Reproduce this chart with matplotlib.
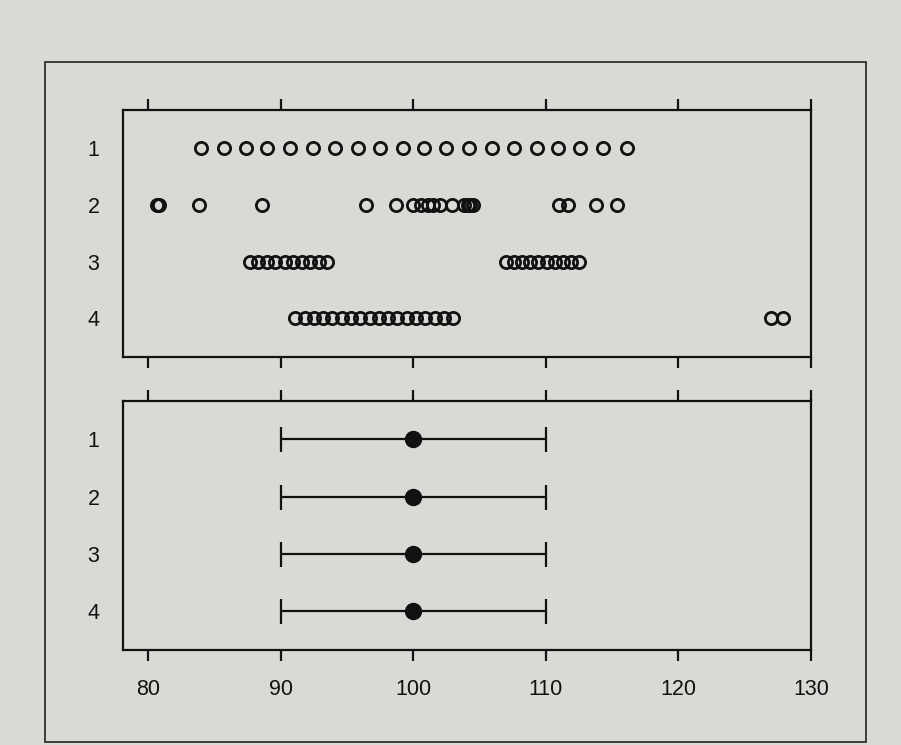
import matplotlib
matplotlib.use("Agg")
import matplotlib.pyplot as plt
from matplotlib.patches import Rectangle

# four samples, all with mean ~100 and sd ~10
group1 = [84.0, 85.7, 87.4, 89.0, 90.7, 92.4, 94.1, 95.8, 97.5, 99.2,
          100.8, 102.5, 104.2, 105.9, 107.6, 109.3, 110.9, 112.6, 114.3, 116.1]
group2 = [80.7, 80.8, 83.8, 88.6, 96.4, 98.7, 100.0, 100.6, 101.1, 101.5,
          102.0, 102.9, 103.8, 104.1, 104.3, 104.5, 111.0, 111.7, 113.8, 115.4]
group3 = [87.7, 88.3, 89.0, 89.6, 90.3, 90.9, 91.6, 92.2, 92.9, 93.5,
          107.0, 107.6, 108.2, 108.8, 109.4, 110.1, 110.7, 111.3, 111.9, 112.5]
group4 = [91.1, 91.8, 92.5, 93.2, 93.9, 94.6, 95.3, 96.0, 96.7, 97.4,
          98.1, 98.8, 99.5, 100.2, 100.9, 101.6, 102.3, 103.0, 127.0, 127.9]
groups = [group1, group2, group3, group4]
rows = [1, 2, 3, 4]

means = [100, 100, 100, 100]
sds = [10, 10, 10, 10]

xticks = [80, 90, 100, 110, 120, 130]

bg = '#d9dad5'
plt.rcParams['font.family'] = ['Liberation Sans', 'DejaVu Sans']

fig = plt.figure(figsize=(9.01, 7.45), dpi=100, facecolor=bg)
W, H = 901, 745

ax1 = fig.add_axes([123 / W, 1 - 357 / H, 688 / W, 247 / H], facecolor=bg)
ax2 = fig.add_axes([123 / W, 1 - 650 / H, 688 / W, 249 / H], facecolor=bg)

for row, vals in zip(rows, groups):
    ax1.plot(vals, [row] * len(vals), 'o', mfc='none', mec='#111111',
             mew=2.0, ms=8.8, linestyle='none')

ax2.errorbar(means, rows, xerr=sds, fmt='o', color='#111111', ms=11.5,
             elinewidth=1.6, capsize=9, capthick=1.6)

for ax in (ax1, ax2):
    ax.set_xlim(78.1, 130)
    ax.set_ylim(4.68, 0.33)
    ax.set_xticks(xticks)
    ax.set_yticks(rows)
    ax.set_yticklabels([str(r) for r in rows], fontsize=15.5)
    ax.tick_params(axis='x', top=True, bottom=True, direction='out',
                   length=8, width=1.6, labelsize=15.5, pad=13, colors='#111111')
    ax.tick_params(axis='y', length=0, pad=17, colors='#111111')
    for s in ax.spines.values():
        s.set_linewidth(1.6)
        s.set_color('#111111')

ax1.tick_params(axis='x', labelbottom=False)

# outer frame around the whole figure
fig.patches.append(Rectangle((45 / W, 3 / H), 821 / W, (683 - 3) / H,
                             transform=fig.transFigure, fill=False,
                             edgecolor='#222222', linewidth=1.2))

fig.savefig('out.png', dpi=100, facecolor=bg)
